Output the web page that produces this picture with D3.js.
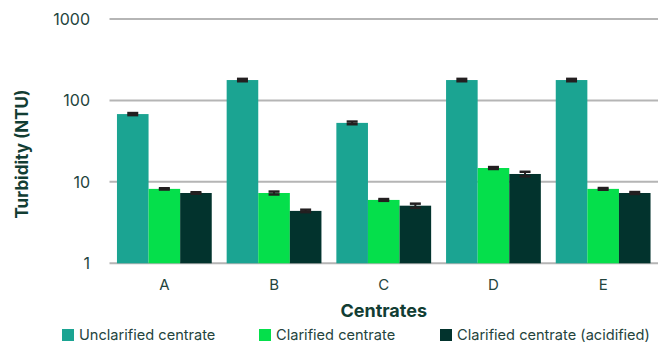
<!DOCTYPE html>
<html>
<head>
<meta charset="utf-8">
<script src="https://cdn.jsdelivr.net/npm/d3@7/dist/d3.min.js"></script>
<style>
  html, body { margin: 0; padding: 0; background: #fff; }
  svg { display: block; font-family: Inter, "Noto Sans", sans-serif; }
</style>
</head>
<body>
<svg id="chart" width="658" height="343"></svg>
<script>
// Turbidity of centrates by treatment
const categories = ["A", "B", "C", "D", "E"];
const seriesNames = ["Unclarified centrate", "Clarified centrate", "Clarified centrate (acidified)"];
const unclarified = [68, 178, 53, 178, 178];
const clarified = [8.2, 7.3, 6.0, 14.8, 8.2];
const acidified = [7.3, 4.4, 5.1, 12.5, 7.3];
const unclarifiedErr = [2, 6, 2, 6, 6];
const clarifiedErr = [0.15, 0.3, 0.15, 0.4, 0.2];
const acidifiedErr = [0.15, 0.15, 0.3, 0.8, 0.2];
const yTicks = [1, 10, 100, 1000];
const colors = ["#1ba492", "#05df4b", "#02332d"];

const values = [unclarified, clarified, acidified];
const errors = [unclarifiedErr, clarifiedErr, acidifiedErr];

const svg = d3.select("#chart");
const margin = { left: 109.5, right: 0, top: 19, bottom: 80 };
const width = 658, height = 343;
const textColor = "#123d33";

const x = d3.scaleBand()
  .domain(categories)
  .range([margin.left, width - margin.right])
  .paddingInner(0.136)
  .paddingOuter(0.068);

const xs = d3.scaleBand()
  .domain(d3.range(seriesNames.length))
  .range([0, x.bandwidth()]);

const y = d3.scaleLog()
  .domain([1, 1000])
  .range([263.3, 19]);

// gridlines
svg.append("g")
  .selectAll("line")
  .data(yTicks)
  .join("line")
  .attr("x1", margin.left)
  .attr("x2", width)
  .attr("y1", d => y(d))
  .attr("y2", d => y(d))
  .attr("stroke", "#b5b5b5")
  .attr("stroke-width", 2);

// y tick labels
svg.append("g")
  .selectAll("text")
  .data(yTicks)
  .join("text")
  .attr("x", 90)
  .attr("y", d => y(d))
  .attr("dy", "0.36em")
  .attr("text-anchor", "end")
  .attr("font-size", 16)
  .attr("fill", "#24443d")
  .text(d => d3.format("d")(d));

// bars
const groups = svg.append("g")
  .selectAll("g")
  .data(categories)
  .join("g")
  .attr("transform", d => `translate(${x(d)},0)`);

groups.selectAll("rect")
  .data((c, i) => values.map((s, k) => ({ k, v: s[i], e: errors[k][i] })))
  .join("rect")
  .attr("x", d => xs(d.k))
  .attr("width", xs.bandwidth())
  .attr("y", d => y(d.v))
  .attr("height", d => y(1) - y(d.v))
  .attr("fill", d => colors[d.k]);

// error bars
const eb = groups.selectAll("g.err")
  .data((c, i) => values.map((s, k) => ({ k, v: s[i], e: errors[k][i] })))
  .join("g")
  .attr("class", "err")
  .attr("transform", d => `translate(${xs(d.k) + xs.bandwidth() / 2},0)`);

const capW = 5.5;
const errColor = "#231f20";
eb.append("line")
  .attr("x1", 0).attr("x2", 0)
  .attr("y1", d => y(d.v + d.e))
  .attr("y2", d => y(d.v - d.e))
  .attr("stroke", errColor)
  .attr("stroke-width", 2);
eb.append("line")
  .attr("x1", -capW).attr("x2", capW)
  .attr("y1", d => y(d.v + d.e))
  .attr("y2", d => y(d.v + d.e))
  .attr("stroke", errColor)
  .attr("stroke-width", 2.5);
eb.append("line")
  .attr("x1", -capW).attr("x2", capW)
  .attr("y1", d => y(d.v - d.e))
  .attr("y2", d => y(d.v - d.e))
  .attr("stroke", errColor)
  .attr("stroke-width", 2.5);

// category labels
svg.append("g")
  .selectAll("text")
  .data(categories)
  .join("text")
  .attr("x", d => x(d) + x.bandwidth() / 2)
  .attr("y", 285)
  .attr("dy", "0.35em")
  .attr("text-anchor", "middle")
  .attr("font-size", 15)
  .attr("fill", "#24443d")
  .text(d => d);

// axis titles
svg.append("text")
  .attr("x", (margin.left + width) / 2)
  .attr("y", 311)
  .attr("dy", "0.35em")
  .attr("text-anchor", "middle")
  .attr("font-size", 18)
  .attr("font-weight", 700)
  .attr("fill", textColor)
  .text("Centrates");

svg.append("text")
  .attr("transform", "translate(22,154) rotate(-90)")
  .attr("dy", "0.35em")
  .attr("text-anchor", "middle")
  .attr("font-size", 17)
  .attr("font-weight", 700)
  .attr("fill", textColor)
  .text("Turbidity (NTU)");

// legend
const legendX = [62, 259, 440];
const legend = svg.append("g")
  .selectAll("g")
  .data(seriesNames)
  .join("g")
  .attr("transform", (d, i) => `translate(${legendX[i]},335)`);
legend.append("rect")
  .attr("x", 0).attr("y", -6)
  .attr("width", 12).attr("height", 12)
  .attr("fill", (d, i) => colors[i]);
legend.append("text")
  .attr("x", 17)
  .attr("dy", "0.35em")
  .attr("font-size", 14.6)
  .attr("fill", "#24443d")
  .text(d => d);
</script>
</body>
</html>
